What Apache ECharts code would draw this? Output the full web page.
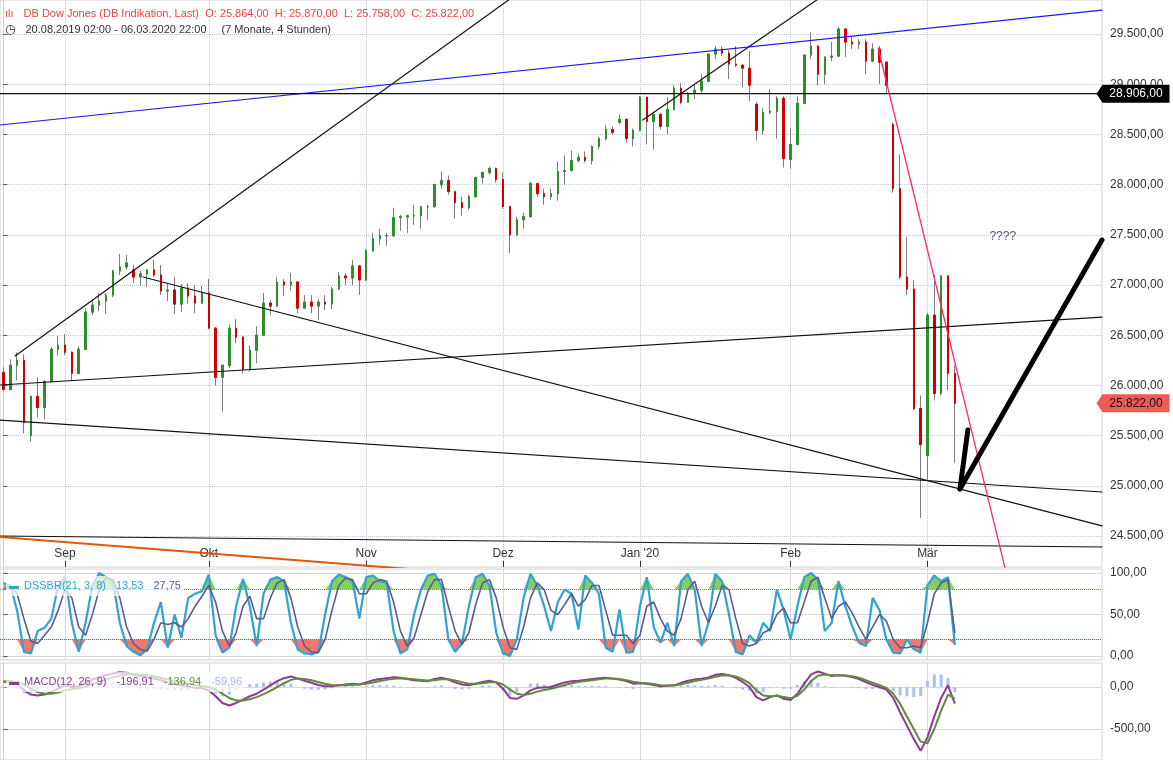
<!DOCTYPE html>
<html><head><meta charset="utf-8">
<script src="https://cdn.jsdelivr.net/npm/echarts@6/dist/echarts.min.js"></script>
<style>html,body{margin:0;padding:0;background:#fff}#c{width:1173px;height:760px}</style>
</head><body><div id="c"></div>
<script>
function days(ym, list){ return list.map(d => ym + '-' + (d < 10 ? '0' + d : '' + d)); }

// ---- categories ----
const dates = [].concat(
  days('2019-08',[20,21,22,23,26,27,28,29,30]),
  days('2019-09',[2,3,4,5,6,9,10,11,12,13,16,17,18,19,20,23,24,25,26,27,30]),
  days('2019-10',[1,2,3,4,7,8,9,10,11,14,15,16,17,18,21,22,23,24,25,28,29,30,31]),
  days('2019-11',[1,4,5,6,7,8,11,12,13,14,15,18,19,20,21,22,25,26,27,29]),
  days('2019-12',[2,3,4,5,6,9,10,11,12,13,16,17,18,19,20,23,24,27,30,31]),
  days('2020-01',[2,3,6,7,8,9,10,13,14,15,16,17,20,21,22,23,24,27,28,29,30,31]),
  days('2020-02',[3,4,5,6,7,10,11,12,13,14,17,18,19,20,21,24,25,26,27,28]),
  days('2020-03',[2,3,4,5,6])
);
const futureDates = [].concat(
  days('2020-03',[9,10,11,12,13,16,17,18,19,20,23,24,25,26,27,30,31]),
  days('2020-04',[1,2,3,6])
);
const monthTickDates = ['2019-09-02','2019-10-01','2019-11-01','2019-12-02','2020-01-02','2020-02-03','2020-03-02'];
const monthTickLabels = ['Sep','Okt','Nov','Dez',"Jan '20",'Feb','Mär'];
const priceTicks = [24500,25000,25500,26000,26500,27000,27500,28000,28500,29000,29500];
const dssTicks = [0,50,100];
const macdTicks = [-500,0];

// ---- price (daily OHLC) ----
const open = [26130,25960,26200,26250,25500,25890,25780,26040,26360,
 26400,26330,26120,26360,26730,26800,26840,26900,27140,27180,27150,27080,27110,27150,27100,26940,26950,26810,26970,26890,26820,
 26920,26570,26080,26200,26570,26480,26160,26350,26500,26820,26790,27030,27000,27030,26770,26830,26790,26830,26810,26960,27090,27070,27190,
 27050,27340,27460,27490,27490,27670,27680,27690,27690,27780,27780,28000,28040,27930,27820,27770,27880,28070,28120,28160,
 28050,27780,27500,27650,27680,28010,27910,27880,27910,28130,28140,28240,28270,28240,28380,28460,28550,28620,28650,28460,
 28540,28870,28630,28700,28580,28750,28960,28820,28910,28940,29030,29300,29350,29310,29200,29190,29160,28800,28540,28720,28730,28860,
 28250,28400,28810,29290,29380,29100,29270,29280,29550,29420,29400,29420,29230,29350,29220,28600,27960,27080,26960,25770,
 25300,26700,25920,27090,26120];
const high = [26180,26260,26330,26310,25900,26080,26050,26380,26490,
 26510,26340,26390,26770,26860,26920,26920,27150,27310,27300,27200,27140,27160,27250,27200,27020,27080,27010,27020,27000,26990,
 27060,26580,26210,26610,26660,26490,26400,26590,26920,26850,27080,27060,27120,27040,26900,26900,26860,26900,26980,27130,27120,27250,27200,
 27360,27520,27560,27520,27770,27700,27700,27800,27790,27800,28010,28130,28090,27940,27880,27900,28080,28130,28180,28170,
 28120,27790,27680,27720,28030,28020,27960,27960,28230,28290,28340,28310,28330,28390,28470,28590,28580,28700,28660,28560,
 28880,28870,28710,28710,28870,28990,29010,28920,29000,29100,29300,29380,29380,29340,29380,29200,29330,28820,28760,28950,28880,28880,
 28560,28880,29300,29520,29390,29280,29420,29570,29560,29480,29450,29450,29410,29380,29230,28620,28300,27480,27050,25900,
 26720,27100,27100,27100,26200];
const low = [25940,25950,26050,25520,25440,25680,25660,26030,26300,
 26300,26050,26110,26350,26700,26740,26710,26880,27100,27150,27020,26990,26980,27080,26900,26840,26710,26730,26810,26720,26810,
 26560,26000,25740,26170,26420,26120,26140,26220,26490,26700,26780,26890,26940,26720,26760,26720,26650,26750,26760,26950,27000,27000,26900,
 27040,27330,27400,27390,27480,27540,27520,27600,27560,27650,27770,27960,27900,27660,27690,27750,27870,28010,28100,28020,
 27760,27320,27490,27560,27670,27880,27800,27850,27840,28000,28130,28220,28220,28200,28350,28440,28500,28600,28420,28380,
 28530,28400,28350,28550,28500,28740,28800,28820,28850,28900,29020,29250,29280,29050,29170,28970,28830,28440,28500,28700,28460,28170,
 28160,28390,28800,29250,28990,29000,29230,29280,29270,29350,29350,29100,29220,29000,28900,27920,27060,26900,25750,24680,
 25060,25850,25900,25950,25230];
const close = [25960,26200,26250,25630,25890,25780,26040,26360,26400,
 26330,26120,26360,26730,26800,26840,26900,27140,27180,27220,27080,27110,27150,27100,26940,26950,26810,26970,26890,26820,26920,
 26570,26080,26200,26570,26480,26160,26350,26500,26820,26790,27030,27000,27030,26770,26830,26790,26830,26810,26960,27090,27070,27190,27050,
 27340,27460,27490,27490,27670,27680,27690,27690,27780,27780,28000,28040,27930,27820,27770,27880,28070,28120,28160,28050,
 27780,27500,27650,27680,28010,27910,27880,27910,28130,28140,28240,28270,28240,28380,28460,28550,28520,28650,28460,28540,
 28870,28630,28700,28580,28750,28960,28820,28910,28940,29030,29300,29350,29310,29200,29190,29160,28990,28540,28720,28730,28860,28260,
 28400,28810,29290,29380,29100,29270,29280,29550,29420,29400,29420,29230,29350,29220,28990,27960,27080,26960,25770,25410,
 26700,25920,27090,26120,25822];

// ---- DSSBR (21,3,8) ----
const dssFast = [88,85,55,5,3,30,34,45,85,
 96,40,5,40,85,100,95,90,40,12,5,1,8,40,65,10,50,22,70,75,78,
 98,25,4,10,60,93,60,12,75,92,95,90,40,8,3,2,5,50,90,98,95,90,45,
 95,97,90,88,30,3,8,50,80,97,99,85,20,5,15,60,95,99,85,28,
 3,0,20,70,99,85,60,30,65,80,75,32,97,88,75,10,5,56,4,5,
 60,95,35,16,40,12,90,99,80,12,40,99,90,50,5,2,25,16,40,30,80,55,
 20,60,95,100,92,30,40,90,60,36,16,12,70,55,20,4,3,20,8,4,
 85,97,90,95,13.53];
const dssSlow = [80,84,75,45,18,15,25,35,55,
 80,70,35,25,50,80,95,92,70,35,15,8,6,20,40,38,40,35,45,60,72,
 85,65,30,12,28,60,72,45,45,70,88,92,70,35,12,5,4,20,55,85,94,92,75,
 75,88,92,90,65,30,12,22,50,78,92,92,60,30,14,28,62,88,92,70,
 35,10,8,35,70,88,80,55,50,62,75,60,68,85,85,55,25,25,25,15,
 25,60,65,45,30,25,45,80,90,60,40,60,85,80,45,15,12,15,28,32,50,58,
 40,40,65,90,95,70,45,60,65,52,35,20,35,50,42,20,10,10,12,10,
 40,75,88,92,27.75];
const dssUpper = 80, dssLower = 20;

// ---- MACD (12,26,9) ----
const macdLine = [60,70,40,-40,-90,-100,-90,-60,-20,
 20,0,10,50,90,120,140,160,175,170,150,130,115,100,80,55,35,20,5,-10,-15,
 -40,-110,-190,-220,-190,-150,-110,-80,-30,20,70,105,125,100,75,50,25,10,10,20,30,40,30,
 55,80,95,105,115,110,95,80,75,70,95,110,90,55,30,20,40,60,75,55,
 -20,-130,-140,-100,-40,-10,-5,0,30,55,70,75,85,95,105,110,100,90,70,40,
 45,40,25,10,15,20,50,75,90,100,115,145,155,140,110,60,0,-120,-160,-120,-100,-140,
 -155,-80,40,150,185,160,130,140,135,120,95,60,25,0,-30,-130,-300,-460,-620,-760,
 -600,-350,-130,20,-196.91];
const macdSignal = [70,70,60,30,-20,-60,-80,-80,-65,
 -40,-25,-15,5,30,60,90,115,135,150,155,150,140,125,110,90,70,55,40,25,10,
 0,-30,-80,-130,-160,-160,-145,-120,-85,-45,0,45,85,100,95,80,60,40,25,20,20,28,30,
 40,55,72,85,97,103,100,92,85,78,82,92,92,78,58,40,38,45,58,58,
 30,-30,-80,-95,-80,-55,-35,-20,0,25,45,60,72,82,92,100,100,95,82,62,
 52,45,35,22,18,18,32,52,70,85,100,122,138,140,125,92,45,-40,-100,-110,-105,-120,
 -135,-105,-30,70,135,150,140,140,138,128,110,82,50,22,-10,-80,-200,-350,-500,-650,
 -670,-500,-280,-90,-136.94];

// ---- drawn annotations: [category index, price] ----
const lineUpper1 = [[1.7,26293],[85.2,30400]];
const lineUpper2 = [[93.4,28643],[126.5,30200]];
const lineBlue = [[-0.5,28594],[160.5,29739]];
const lineResist = [[-0.5,28906],[160.5,28906]];
const lineSupportRise = [[-0.5,26004],[160.5,26681]];
const lineDown1 = [[20.4,27080],[160.5,24600]];
const lineDown2 = [[-0.5,25655],[160.5,24938]];
const lineBottom = [[-0.5,24500],[160.5,24390]];
const lineOrange = [[-0.5,24490],[60,24167]];
const linePink = [[127.8,29361],[148,23715]];
const arrowShort = [[139.75,24968],[140.9,25556]];
const arrowLong = [[139.75,24968],[160.5,27448]];
const questionPoint = [146.0,27478];
const resistValue = 28906;
const lastValue = 25822;

const header = {name:'DB Dow Jones (DB Indikation, Last)', o:'25.864,00', h:'25.870,00', l:'25.758,00', c:'25.822,00',
  range:'20.08.2019 02:00 - 06.03.2020 22:00', span:'(7 Monate, 4 Stunden)'};
const dssLegend = {name:'DSSBR(21, 3, 8)', a:'13,53', b:'27,75'};
const macdLegend = {name:'MACD(12, 26, 9)', a:'-196,91', b:'-136,94', c:'-59,96'};

// ---- helpers ----
function de(n){ const s = Math.abs(n).toFixed(2).split('.'); return (n < 0 ? '-' : '') + s[0].replace(/\B(?=(\d{3})+(?!\d))/g,'.') + ',' + s[1]; }
const FF = '"Liberation Sans", Arial, sans-serif';
const allDates = dates.concat(futureDates);
const N = allDates.length;
const monthIdx = monthTickDates.map(d => allDates.indexOf(d));
const monthName = {}; monthIdx.forEach((k,j) => monthName[k] = monthTickLabels[j]);
const wickData = dates.map((d,i) => [open[i], close[i], low[i], high[i]]);
const bodyData = dates.map((d,i) => [open[i], close[i], Math.min(open[i],close[i]), Math.max(open[i],close[i])]);
const histData = macdLine.map((v,i) => v - macdSignal[i]);

function catAxis(g){ return {type:'category', gridIndex:g, data:allDates, boundaryGap:true, show:false, position:'top'}; }
function valX(g, main){
  return {type:'value', gridIndex:g, min:-0.5, max:N-0.5, position:'bottom',
    axisLine:{show:false},
    axisTick:{show:main, inside:true, length:6, customValues:monthIdx, lineStyle:{color:'#333'}},
    axisLabel:{show:main, inside:true, customValues:monthIdx, margin:7, color:'#333', fontSize:12, fontFamily:FF,
      formatter: v => monthName[Math.round(v)] || ''},
    splitLine:{show:true, lineStyle: main ? {type:'dotted', color:'#c4c9d8', width:1} : {type:'solid', color:'#d9d9d9', width:1}}};
}
function yAx(g, min, max, ticks, dotted){
  return {type:'value', gridIndex:g, position:'right', min:min, max:max,
    axisLine:{show:true, lineStyle:{color:'#c9cfdf'}},
    axisTick:{show:true, length:4, customValues:ticks, lineStyle:{color:'#555'}},
    axisLabel:{customValues:ticks, formatter:de, color:'#333', fontSize:12, fontFamily:FF, margin:8},
    splitLine:{show:true, lineStyle: dotted ? {type:'dotted', color:'#c4c9d8'} : {type:'solid', color:'#d9d9d9'}}};
}
function tl(data, color, width, extra){
  return Object.assign({type:'line', xAxisIndex:1, yAxisIndex:0, data:data, symbol:'none', silent:true, z:4,
    lineStyle:{color:color, width:width, cap:'round'}}, extra || {});
}
function rs(color, size, fam){ return {color:color, fontSize:size, fontWeight:'normal', fontFamily:fam || FF}; }

const tagPath = 'path://M0,9L6,0L73,0L73,18L6,18Z';

const option = {
  animation:false,
  backgroundColor:'#ffffff',
  textStyle:{fontFamily:FF},
  title:[
    {left:5, top:5, padding:0, text:'{i|ılı}  {t|' + header.name + '  O: ' + header.o + '  H: ' + header.h + '  L: ' + header.l + '  C: ' + header.c + '}',
      textStyle:{fontWeight:'normal', rich:{i:rs('#e8473f', 11), t:rs('#e8473f', 11)}}},
    {left:5, top:21, padding:0, text:'{i|◷}  {t|' + header.range + '}   {t|' + header.span + '}',
      textStyle:{fontWeight:'normal', rich:{i:rs('#333', 12, 'DejaVu Sans'), t:rs('#333', 11)}}},
    {left:6, top:576, padding:[1,3], backgroundColor:'rgba(255,255,255,0.7)',
      text:'{b|▬} {a|' + dssLegend.name + '}  {a|' + dssLegend.a + '}  {s|' + dssLegend.b + '}',
      textStyle:{fontWeight:'normal', rich:{b:rs('#2ea3d5', 10), a:rs('#2ea3d5', 11), s:rs('#5c5b8e', 11)}}},
    {left:6, top:672, padding:[1,3], backgroundColor:'rgba(255,255,255,0.7)',
      text:'{b|▬} {a|' + macdLegend.name + '}  {a|' + macdLegend.a + '}  {g|' + macdLegend.b + '}  {h|' + macdLegend.c + '}',
      textStyle:{fontWeight:'normal', rich:{b:rs('#8c3b8f', 10), a:rs('#8c3b8f', 11), g:rs('#5e8c3c', 11), h:rs('#9fb6e6', 11)}}}
  ],
  grid:[
    {left:0, top:0, width:1102, height:567, show:true, borderColor:'#d2d2d2', borderWidth:1},
    {left:0, top:569, width:1102, height:91, show:true, borderColor:'#d2d2d2', borderWidth:1},
    {left:0, top:663, width:1102, height:97, show:true, borderColor:'#d2d2d2', borderWidth:1}
  ],
  xAxis:[catAxis(0), valX(0,true), catAxis(1), valX(1,false), catAxis(2), valX(2,false)],
  yAxis:[
    yAx(0, 24191, 29839, priceTicks, true),
    yAx(1, -4.8, 104.8, dssTicks, false),
    yAx(2, -869, 286, macdTicks, false)
  ],
  series:[
    {type:'candlestick', name:'wick', xAxisIndex:0, yAxisIndex:0, data:wickData, barWidth:2, z:2,
      itemStyle:{color:'rgba(0,0,0,0)', color0:'rgba(0,0,0,0)', borderColor:'#7d7d7d', borderColor0:'#7d7d7d', borderWidth:1}},
    {type:'candlestick', name:'body', xAxisIndex:0, yAxisIndex:0, data:bodyData, barWidth:2, z:3,
      itemStyle:{color:'#2b8f2b', color0:'#d10000', borderColor:'#2b8f2b', borderColor0:'#d10000', borderWidth:1}},
    tl(lineUpper1, '#111', 1.2),
    tl(lineUpper2, '#111', 1.2),
    tl(lineBlue, '#1a1ae6', 1.2),
    tl(lineResist, '#111', 1.4, {clip:false,
      markPoint:{silent:true, data:[{coord:[N-0.5, resistValue], symbol:tagPath, symbolSize:[73,18], symbolOffset:[31,0],
        itemStyle:{color:'#000'}, label:{show:true, position:'inside', offset:[3,0], formatter:de(resistValue), color:'#fff', fontSize:12, fontFamily:FF}}]}}),
    tl(lineSupportRise, '#111', 1.2),
    tl(lineDown1, '#111', 1.2),
    tl(lineDown2, '#111', 1.2),
    tl(lineBottom, '#111', 1.2),
    tl(lineOrange, '#e2570b', 2),
    tl(linePink, '#ff2a6a', 1.3),
    tl(arrowShort, '#000', 5, {z:5}),
    tl(arrowLong, '#000', 5, {z:5}),
    {type:'scatter', xAxisIndex:1, yAxisIndex:0, data:[questionPoint], symbolSize:1, silent:true, clip:false,
      itemStyle:{color:'rgba(0,0,0,0)'},
      label:{show:true, position:'inside', formatter:'????', color:'#1b2540', fontSize:12, fontFamily:FF},
      markPoint:{silent:true, data:[{coord:[N-0.5, lastValue], symbol:tagPath, symbolSize:[73,18], symbolOffset:[31,0],
        itemStyle:{color:'#f05a55'}, label:{show:true, position:'inside', offset:[3,0], formatter:de(lastValue), color:'#111', fontSize:12, fontFamily:FF}}]}},
    // DSSBR fills
    {type:'line', xAxisIndex:2, yAxisIndex:1, stack:'g', data:dssFast.map(() => dssUpper), symbol:'none', lineStyle:{opacity:0}, silent:true},
    {type:'line', xAxisIndex:2, yAxisIndex:1, stack:'g', data:dssFast.map(v => Math.max(v, dssUpper) - dssUpper), symbol:'none', lineStyle:{opacity:0},
      areaStyle:{color:'#86cf5c', opacity:1}, silent:true},
    {type:'line', xAxisIndex:2, yAxisIndex:1, stack:'r', data:dssFast.map(v => Math.min(v, dssLower)), symbol:'none', lineStyle:{opacity:0}, silent:true},
    {type:'line', xAxisIndex:2, yAxisIndex:1, stack:'r', data:dssFast.map(v => dssLower - Math.min(v, dssLower)), symbol:'none', lineStyle:{opacity:0},
      areaStyle:{color:'#f2786f', opacity:1}, silent:true},
    {type:'line', xAxisIndex:2, yAxisIndex:1, data:dssFast, symbol:'none', z:4, lineStyle:{color:'#2ea3d5', width:2.2},
      markLine:{silent:true, symbol:'none', label:{show:false},
        data:[{yAxis:dssUpper, lineStyle:{color:'#3fb422', type:'dotted', width:1}}, {yAxis:dssLower, lineStyle:{color:'#e63c3c', type:'dotted', width:1}}]}},
    {type:'line', xAxisIndex:2, yAxisIndex:1, data:dssSlow, symbol:'none', z:5, lineStyle:{color:'#5c5b8e', width:1.6}},
    // MACD
    {type:'bar', xAxisIndex:4, yAxisIndex:2, data:histData, barWidth:3, itemStyle:{color:'#a9c1ee'}, silent:true},
    {type:'line', xAxisIndex:4, yAxisIndex:2, data:macdLine, symbol:'none', z:4, lineStyle:{color:'#8c3b8f', width:2}},
    {type:'line', xAxisIndex:4, yAxisIndex:2, data:macdSignal, symbol:'none', z:5, lineStyle:{color:'#5e8c3c', width:2}}
  ]
};
const chart = echarts.init(document.getElementById('c'), null, {renderer:'canvas'});
chart.setOption(option);
</script></body></html>
